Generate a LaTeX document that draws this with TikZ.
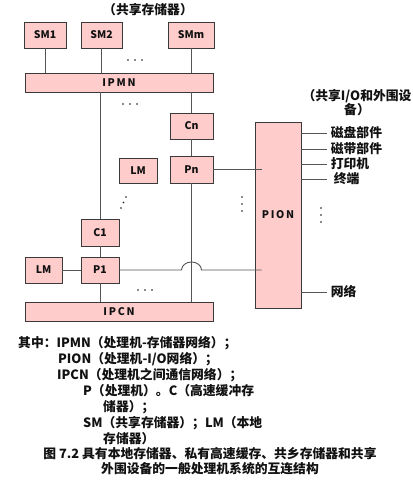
\documentclass[tikz,border=0pt]{standalone}
\usepackage{fontspec}
\setmainfont{Noto Sans CJK SC}
\usepackage{tikz}
\usetikzlibrary{calc}
\definecolor{NetPink}{HTML}{FFCCCC}
\definecolor{NetEdge}{HTML}{3A3A3A}
\definecolor{NetWire}{HTML}{555555}
\definecolor{NetInk}{HTML}{111111}
\tikzset{
  unitbox/.style={draw=NetEdge, line width=0.8pt, fill=NetPink, inner sep=0pt, font=\bfseries\fontsize{10.5}{12}\selectfont, text=NetInk},
  busbox/.style={unitbox, minimum width=188pt, minimum height=19pt},
  wire/.style={draw=NetWire, line width=0.9pt},
  note/.style={font=\bfseries\fontsize{12.8}{14}\selectfont, text=NetInk, inner sep=0pt},
  dotmark/.style={fill=NetInk}
}

\begin{document}
\begin{tikzpicture}[x=1pt, y=-1pt]
\useasboundingbox[fill=white] (0,0) rectangle (412,484);
% shared memories and the memory network
\node[unitbox, minimum width=42pt, minimum height=26pt] (sm1) at (45,35) {SM1};
\node[unitbox, minimum width=41pt, minimum height=26pt] (sm2) at (101.5,35) {SM2};
\node[unitbox, minimum width=46pt, minimum height=26pt] (smm) at (191,35) {SMm};
\node[busbox] (ipmn) at (119,82.5) {I\,P\,M\,N};
\node[note] (smtitle) at (148,10) {（共享存储器）};
\foreach \s in {sm1,sm2,smm} {
  \draw[wire] (\s.south) -- (\s.south |- ipmn.north);
}
% processors, caches, local memories
\node[unitbox, minimum width=43pt, minimum height=26pt] (cn) at (191.5,126) {Cn};
\node[unitbox, minimum width=43pt, minimum height=27pt] (pn) at (191.5,169.5) {Pn};
\node[unitbox, minimum width=38pt, minimum height=25pt] (lmn) at (138,170.5) {LM};
\node[unitbox, minimum width=38pt, minimum height=27pt] (c1) at (100,232.5) {C1};
\node[unitbox, minimum width=38pt, minimum height=26pt] (p1) at (100,270) {P1};
\node[unitbox, minimum width=37pt, minimum height=26pt] (lm1) at (43.5,270) {LM};
\node[busbox] (ipcn) at (119,311.5) {I\,P\,C\,N};
\node[unitbox, minimum width=46pt, minimum height=186pt] (pion) at (278,215) {P\,I\,O\,N};
\draw[wire] (ipmn.south -| c1) -- (c1.north);
\draw[wire] (c1.south) -- (p1.north);
\draw[wire] (p1.south) -- (ipcn.north -| p1);
\draw[wire] (ipmn.south -| cn) -- (cn.north);
\draw[wire] (cn.south) -- (pn.north);
\draw[wire] (pn.south) -- (ipcn.north -| pn);
\draw[wire] (lm1.east) -- (p1.west);
\draw[wire] (pn.east) -- ($(pion.west |- pn)+(7,0)$);
\coordinate (hop) at (p1.east -| pn.south);
\draw[wire] (p1.east) -- ($(hop)+(-10,0)$)
  arc[start angle=180, end angle=0, x radius=10pt, y radius=8pt]
  -- ($(pion.west |- p1)+(7,0)$);
% peripherals
\node[note, align=center] (iotitle) at (357,103) {（共享I/O和外围设\\备）};
\foreach \y/\txt in {133/磁盘部件,149/磁带部件,164/打印机,179/\ 终端,292/网络} {
  \coordinate (dev) at (pion.east |- 0,\y);
  \draw[wire] (dev) -- ++(26,0) node[note, anchor=west, xshift=3pt] {\txt};
}
% ellipsis dots
\foreach \x/\y in {128/60,135/60,142/60, 123/104,130/104,137/104, 138/290,145/290,152/290,
                   126/197,123.5/202.5,121/208, 242/197,242/204,242/211, 321/208,321/215,321/222} {
  \fill[dotmark] (\x,\y) circle (0.8pt);
}
% legend and caption
\node[note, anchor=west] (leg1) at (18,343) {其中：IPMN（处理机-存储器网络）；};
\node[note, anchor=west] (leg2) at (58,359) {PION（处理机-I/O网络）；};
\node[note, anchor=west] (leg3) at (57,375) {IPCN（处理机之间通信网络）；};
\node[note, anchor=west] (leg4) at (83,391) {P（处理机）。C（高速缓冲存};
\node[note, anchor=west] (leg5) at (103,407) {储器）；};
\node[note, anchor=west] (leg6) at (83,423) {SM（共享存储器）；LM（本地};
\node[note, anchor=west] (leg7) at (103,439) {存储器）};
\node[note] (cap1) at (210,454) {图 7.2 具有本地存储器、私有高速缓存、共乡存储器和共享};
\node[note] (cap2) at (210,469) {外围设备的一般处理机系统的互连结构};
\end{tikzpicture}
\end{document}
